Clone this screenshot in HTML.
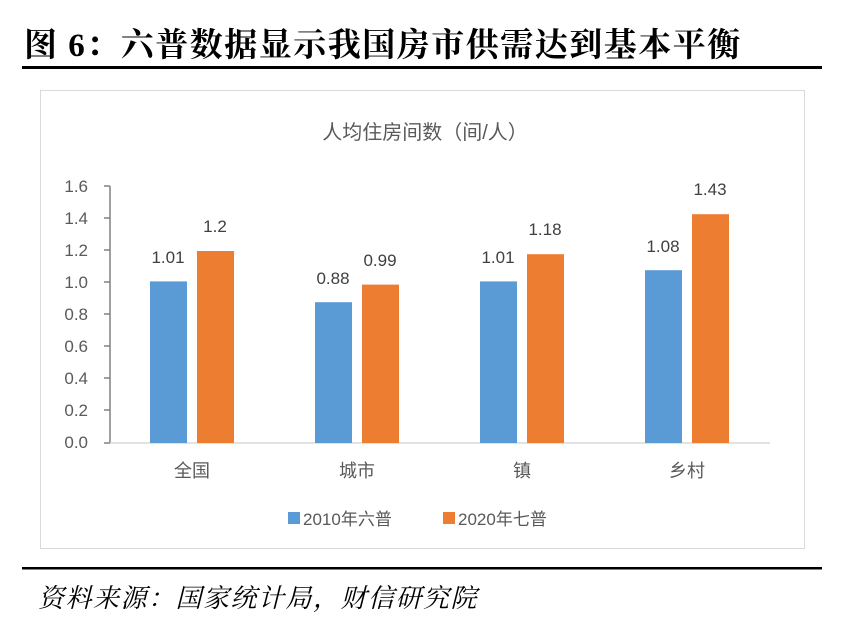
<!DOCTYPE html>
<html><head><meta charset="utf-8"><style>
body{margin:0;background:#fff;width:851px;height:637px;overflow:hidden}
svg{display:block}
</style></head><body>
<svg width="851" height="637" xmlns="http://www.w3.org/2000/svg">
<text x="24" y="56" font-family="'Liberation Serif','Noto Serif CJK SC',serif" font-weight="bold" font-size="33" letter-spacing="1.5" fill="#000">图 6：六普数据显示我国房市供需达到基本平衡</text>
<rect x="22" y="66" width="800" height="3" fill="#000"/>
<rect x="40.5" y="90.5" width="764" height="458" fill="#fff" stroke="#d9d9d9"/>
<text x="425" y="139" text-anchor="middle" font-family="'Liberation Sans','Noto Sans CJK SC',sans-serif" font-size="20" fill="#595959">人均住房间数（间/人）</text>
<g font-family="'Liberation Sans','Noto Sans CJK SC',sans-serif" font-size="17" fill="#595959" text-anchor="end">
<text x="88" y="192">1.6</text><text x="88" y="224">1.4</text><text x="88" y="256">1.2</text><text x="88" y="288">1.0</text><text x="88" y="320">0.8</text><text x="88" y="352">0.6</text><text x="88" y="384">0.4</text><text x="88" y="416">0.2</text><text x="88" y="448">0.0</text>
</g>
<g stroke="#808080" stroke-width="1.5">
<line x1="110" y1="186" x2="110" y2="443"/>
<line x1="104" y1="186" x2="110" y2="186"/><line x1="104" y1="218" x2="110" y2="218"/><line x1="104" y1="250" x2="110" y2="250"/><line x1="104" y1="282" x2="110" y2="282"/><line x1="104" y1="314" x2="110" y2="314"/><line x1="104" y1="346" x2="110" y2="346"/><line x1="104" y1="378" x2="110" y2="378"/><line x1="104" y1="410" x2="110" y2="410"/><line x1="104" y1="443" x2="110" y2="443"/>
</g>
<line x1="110" y1="443" x2="770" y2="443" stroke="#d9d9d9" stroke-width="1.5"/>
<g fill="#5B9BD5">
<rect x="150" y="281.4" width="37" height="161.6"/>
<rect x="315" y="302.2" width="37" height="140.8"/>
<rect x="480" y="281.4" width="37" height="161.6"/>
<rect x="645" y="270.2" width="37" height="172.8"/>
</g>
<g fill="#ED7D31">
<rect x="197" y="251" width="37" height="192"/>
<rect x="362" y="284.6" width="37" height="158.4"/>
<rect x="527" y="254.2" width="37" height="188.8"/>
<rect x="692" y="214.2" width="37" height="228.8"/>
</g>
<g font-family="'Liberation Sans','Noto Sans CJK SC',sans-serif" font-size="17" fill="#404040" text-anchor="middle">
<text x="168" y="263">1.01</text><text x="215" y="232">1.2</text>
<text x="333" y="284">0.88</text><text x="380" y="266">0.99</text>
<text x="498" y="263">1.01</text><text x="545" y="235">1.18</text>
<text x="663" y="252">1.08</text><text x="710" y="195">1.43</text>
</g>
<g font-family="'Liberation Sans','Noto Sans CJK SC',sans-serif" font-size="18" fill="#595959" text-anchor="middle">
<text x="192" y="477">全国</text><text x="357" y="477">城市</text><text x="522" y="477">镇</text><text x="687" y="477">乡村</text>
</g>
<rect x="288" y="512" width="12" height="12" fill="#5B9BD5"/>
<text x="303" y="525" font-family="'Liberation Sans','Noto Sans CJK SC',sans-serif" font-size="17" fill="#595959">2010年六普</text>
<rect x="443" y="512" width="12" height="12" fill="#ED7D31"/>
<text x="458" y="525" font-family="'Liberation Sans','Noto Sans CJK SC',sans-serif" font-size="17" fill="#595959">2020年七普</text>
<rect x="22" y="567" width="800" height="2.5" fill="#000"/>
<text x="38" y="607" font-family="'Liberation Serif','Noto Serif CJK SC',serif" font-style="italic" font-size="26" letter-spacing="1.5" fill="#000">资料来源：国家统计局，财信研究院</text>
</svg>
</body></html>
